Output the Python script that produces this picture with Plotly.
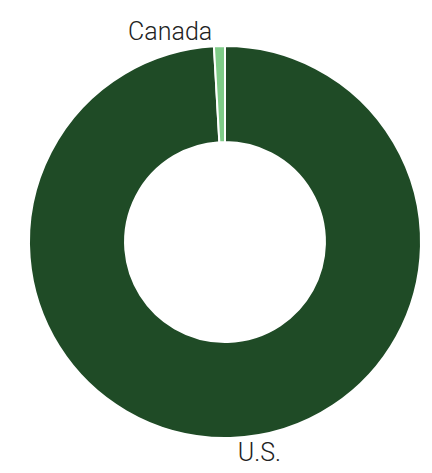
import plotly.graph_objects as go

countries = ["U.S.", "Canada"]
shares = [99.1, 0.9]
colors = ["#1f4b26", "#7fcb88"]

fig = go.Figure(go.Pie(
    labels=countries,
    values=shares,
    hole=0.51,
    sort=False,
    direction="clockwise",
    rotation=0,
    marker=dict(colors=colors, line=dict(color="white", width=2)),
    textinfo="label",
    textposition="outside",
    textfont=dict(family="Roboto", size=25, color="#222222", weight=300),
    hoverinfo="label+percent",
))
fig.update_layout(
    width=432, height=473,
    margin=dict(l=21, r=19, t=38, b=43),
    showlegend=False,
    paper_bgcolor="white",
)
fig.write_html("out.html")
